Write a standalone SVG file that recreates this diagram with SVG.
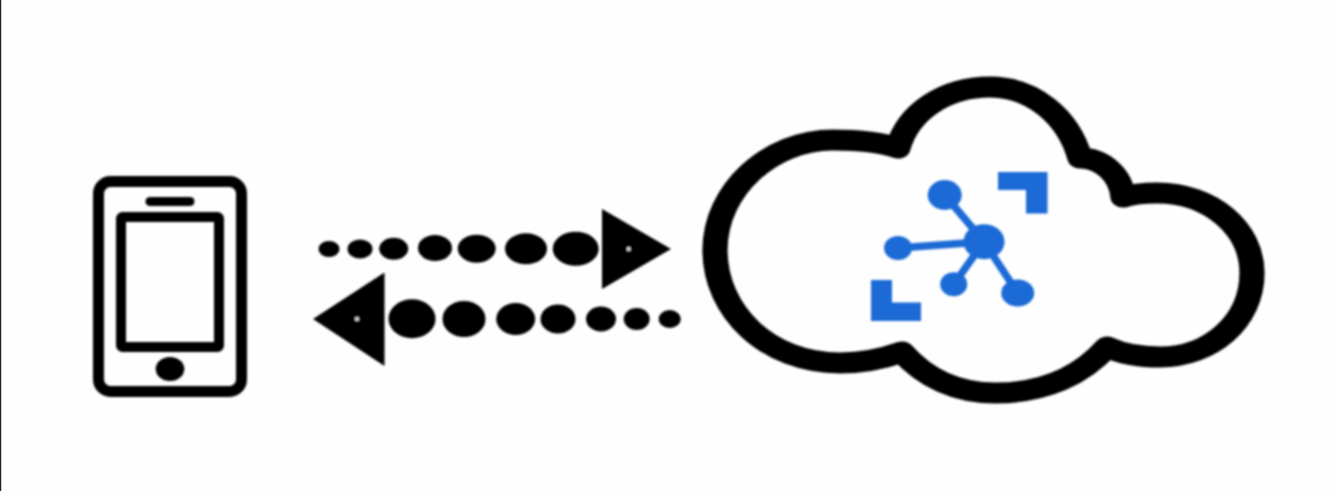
<svg xmlns="http://www.w3.org/2000/svg" width="1338" height="491" viewBox="0 0 1338 491">
  <defs>
    <filter id="soft" x="-5%" y="-5%" width="110%" height="110%"><feGaussianBlur stdDeviation="1"/></filter>
  </defs>
  <style>
    .k { fill: #000; }
    .head { fill: #050303; }
    .pin { fill: #e0e0d8; }
    .outline { fill: none; stroke: #000; stroke-linejoin: round; stroke-linecap: round; }
    .blue { fill: #1a6ad6; }
    .blueline { stroke: #1a6ad6; stroke-width: 7.5; fill: none; }
  </style>
  <rect width="1338" height="491" fill="#fefefe"/>
  <rect x="0" y="0" width="1.2" height="491" fill="#222"/>
  <g id="phone" filter="url(#soft)">
    <rect class="outline" x="98.5" y="181.5" width="143" height="210" rx="12" stroke-width="11"/>
    <rect class="outline" x="121" y="217" width="98" height="130" rx="1.5" stroke-width="10"/>
    <line class="outline" x1="150" y1="201.5" x2="190" y2="201.5" stroke-width="9"/>
    <ellipse class="k" cx="170" cy="369" rx="14.3" ry="12"/>
  </g>
  <g id="connectors" filter="url(#soft)">
    <g id="arrow-to-cloud">
      <ellipse class="k" cx="329" cy="249" rx="10.5" ry="8"/>
      <ellipse class="k" cx="360" cy="249" rx="12.5" ry="9.5"/>
      <ellipse class="k" cx="393.7" cy="248.7" rx="14.5" ry="11"/>
      <ellipse class="k" cx="435" cy="248" rx="17" ry="13"/>
      <ellipse class="k" cx="476.7" cy="248.7" rx="19" ry="14"/>
      <ellipse class="k" cx="526" cy="248.7" rx="21" ry="15.5"/>
      <ellipse class="k" cx="575.7" cy="248.7" rx="23" ry="17"/>
      <polygon class="head" points="602,209 671,249 602,289"/>
      <circle class="pin" cx="628.7" cy="249" r="2"/>
    </g>
    <g id="arrow-to-phone">
      <polygon class="head" points="313,319 384.5,272.5 384.5,366"/>
      <circle class="pin" cx="357" cy="319" r="2"/>
      <ellipse class="k" cx="412" cy="318.7" rx="23.5" ry="19.5"/>
      <ellipse class="k" cx="464" cy="319" rx="21.5" ry="18"/>
      <ellipse class="k" cx="515.7" cy="319" rx="19.5" ry="16"/>
      <ellipse class="k" cx="558" cy="319" rx="17.5" ry="14.5"/>
      <ellipse class="k" cx="601" cy="319" rx="15" ry="12.5"/>
      <ellipse class="k" cx="636.7" cy="319" rx="13" ry="11"/>
      <ellipse class="k" cx="669.7" cy="319" rx="11" ry="9"/>
    </g>
  </g>
  <g id="cloud" filter="url(#soft)">
    <path class="outline" transform="scale(1.2 1)" stroke-width="21" d="M748.33 148 C756.67 112 787.5 87 825 87 C860 87 890 116 900 158 C918.33 158 934.17 175 935.83 197 C944.17 194 954.17 193 964.17 193 C1008.33 193 1043.33 228 1043.33 273 C1043.33 322 1008.33 357 966.67 357 C950 357 935 354 922.5 347 C901.67 375 870.83 393 829.17 393 C797.5 393 770.83 378 751.67 352 C737.5 358 718.33 363 700 363 C640 363 595.83 312 595.83 250 C595.83 190 641.67 140 694.17 140 C714.17 140 733.33 142 748.33 148 Z"/>
  </g>
  <g id="hub-icon" filter="url(#soft)">
    <polygon class="blue" points="998,172 1047.5,172 1047.5,213.5 1026,213.5 1026,190 998,190"/>
    <polygon class="blue" points="871,280 892,280 892,302.5 921,302.5 921,321 871,321"/>
    <line class="blueline" x1="984" y1="241.7" x2="944.7" y2="195"/>
    <line class="blueline" x1="984" y1="241.7" x2="898" y2="248"/>
    <line class="blueline" x1="984" y1="241.7" x2="953.7" y2="284.3"/>
    <line class="blueline" x1="984" y1="241.7" x2="1017.7" y2="293"/>
    <ellipse class="blue" cx="984" cy="241.7" rx="20.5" ry="17.5"/>
    <ellipse class="blue" cx="944.7" cy="195" rx="17" ry="15"/>
    <ellipse class="blue" cx="898" cy="248" rx="14" ry="12"/>
    <ellipse class="blue" cx="953.7" cy="284.3" rx="13.5" ry="12"/>
    <ellipse class="blue" cx="1017.7" cy="293" rx="16.5" ry="13.5"/>
  </g>
</svg>
